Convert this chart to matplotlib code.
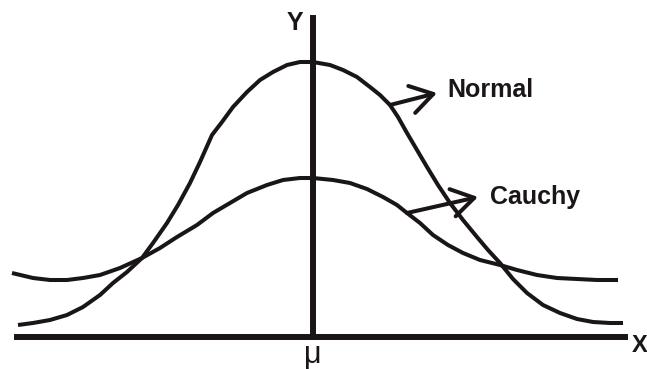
import matplotlib
matplotlib.use("Agg")
import matplotlib.pyplot as plt

# curve values (x relative to mu, y above the X axis)
normal_x = [-2.95, -2.80, -2.63, -2.46, -2.30, -2.13, -2.00, -1.86, -1.71, -1.60,
            -1.46, -1.35, -1.23, -1.13, -1.01, -0.91, -0.80, -0.66, -0.53, -0.40,
            -0.26, -0.13, 0.00, 0.17, 0.30, 0.44, 0.57, 0.67, 0.77, 0.85,
            0.94, 1.04, 1.14, 1.25, 1.37, 1.50, 1.64, 1.75, 1.87, 2.00,
            2.14, 2.30, 2.47, 2.64, 2.80, 2.97, 3.10]
normal_y = [0.12, 0.14, 0.17, 0.22, 0.30, 0.42, 0.54, 0.65, 0.79, 0.94,
            1.14, 1.32, 1.54, 1.75, 2.02, 2.15, 2.30, 2.45, 2.57, 2.65,
            2.72, 2.75, 2.75, 2.72, 2.67, 2.60, 2.50, 2.42, 2.32, 2.20,
            2.04, 1.87, 1.70, 1.52, 1.34, 1.17, 1.00, 0.87, 0.74, 0.58,
            0.44, 0.32, 0.24, 0.18, 0.15, 0.14, 0.14]

cauchy_x = [-3.01, -2.80, -2.63, -2.46, -2.30, -2.13, -1.93, -1.71, -1.53, -1.36,
            -1.16, -1.00, -0.83, -0.66, -0.46, -0.30, -0.13, 0.00, 0.20, 0.37,
            0.54, 0.70, 0.84, 0.94, 1.07, 1.20, 1.35, 1.50, 1.67, 1.87,
            2.04, 2.24, 2.44, 2.64, 2.84, 3.05]
cauchy_y = [0.64, 0.59, 0.57, 0.57, 0.59, 0.62, 0.69, 0.79, 0.89, 1.00,
            1.12, 1.24, 1.34, 1.44, 1.52, 1.57, 1.59, 1.59, 1.57, 1.54,
            1.48, 1.40, 1.32, 1.24, 1.14, 1.02, 0.92, 0.84, 0.77, 0.72,
            0.67, 0.62, 0.59, 0.58, 0.57, 0.57]

# labels and their arrows (tail, head)
labels = ['Normal', 'Cauchy']
label_pos = [(1.34, 2.47), (1.77, 1.40)]
arrow_tail = [(0.77, 2.32), (0.94, 1.24)]
arrow_head = [(1.24, 2.44), (1.65, 1.40)]

ink = '#1a1616'

fig = plt.figure(figsize=(6.47, 3.69), dpi=100)
ax = fig.add_axes([0, 0, 1, 1])
ax.set_xlim(-3.13, 3.34)
ax.set_ylim(-0.32, 3.37)

ax.plot(normal_x, normal_y, color=ink, lw=2.9, solid_capstyle='butt', solid_joinstyle='round')
ax.plot(cauchy_x, cauchy_y, color=ink, lw=2.9, solid_capstyle='butt', solid_joinstyle='round')

# axes drawn as spines crossing at the origin
for s in ['top', 'right']:
    ax.spines[s].set_visible(False)
ax.spines['bottom'].set_position(('data', 0))
ax.spines['left'].set_position(('data', 0))
ax.spines['bottom'].set_bounds(-2.96, 3.12)
ax.spines['left'].set_bounds(0, 3.19)
ax.spines['bottom'].set_linewidth(4.3)
ax.spines['left'].set_linewidth(4.3)
ax.spines['bottom'].set_color(ink)
ax.spines['left'].set_color(ink)
ax.set_xticks([])
ax.set_yticks([])

for lab, pos, tail, head in zip(labels, label_pos, arrow_tail, arrow_head):
    ax.annotate('', xy=head, xytext=tail,
                arrowprops=dict(arrowstyle='->,head_length=1.6,head_width=1.0',
                                mutation_scale=10, lw=2.9, color=ink,
                                shrinkA=0, shrinkB=0))
    ax.text(pos[0], pos[1], lab, fontsize=18, fontweight='bold', color=ink,
            family='Liberation Sans', ha='left', va='center')

ax.text(-0.18, 3.14, 'Y', fontsize=18, fontweight='bold', color=ink,
        family='Liberation Sans', ha='center', va='center')
ax.text(3.19, -0.08, 'X', fontsize=17, fontweight='bold', color=ink,
        family='Liberation Sans', ha='left', va='center')
ax.text(0.0, -0.18, 'μ', fontsize=22, color=ink,
        family='Liberation Sans', ha='center', va='center')

fig.savefig('out.png', dpi=100)
